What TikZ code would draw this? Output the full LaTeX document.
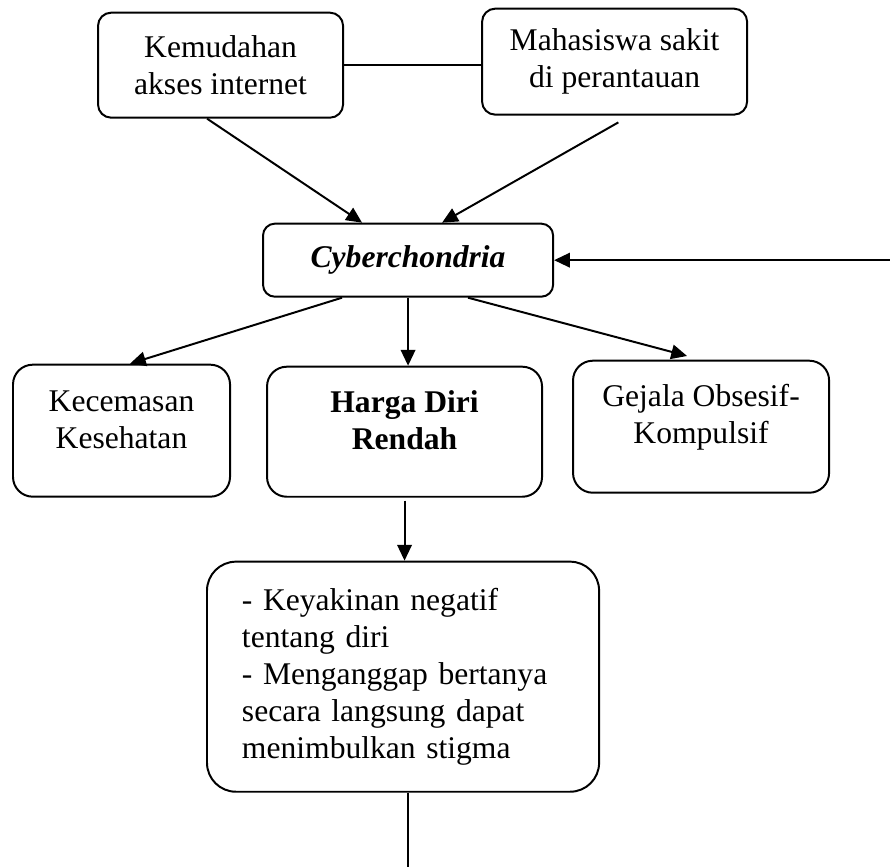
\documentclass[tikz,border=0pt]{standalone}
\usepackage{fontspec}
\setmainfont{Liberation Serif}
\usetikzlibrary{arrows.meta}

\begin{document}
\begin{tikzpicture}[line width=0.75pt,>={Triangle[length=6pt,width=5.5pt]},
kotak/.style={draw,rectangle,rounded corners=#1,inner sep=0pt,line width=0.75pt,font=\fontsize{12pt}{14pt}\selectfont,align=center},
kotak/.default=5pt,
teks/.style={inner sep=0pt,font=\fontsize{12pt}{14pt}\selectfont,align=center},
tebal/.style={teks,font=\fontsize{12pt}{14pt}\selectfont\bfseries}]

\useasboundingbox (0,0) rectangle (11.88,11.57);

\draw (2.944,10.700) node[kotak=5pt,minimum width=3.271cm,minimum height=1.402cm] (akses) {Kemudahan\\akses internet};
\draw (8.204,10.747) node[kotak=5pt,minimum width=3.538cm,minimum height=1.415cm] (rantau) {Mahasiswa sakit\\di perantauan};

\draw (5.447,8.097) node[kotak=4.5pt,minimum width=3.872cm,minimum height=0.975cm] (cyber) {\textbf{\textit{Cyberchondria}}};

\draw (1.622,5.821) node[kotak=7.5pt,minimum width=2.897cm,minimum height=1.762cm] (cemas) {};
\draw (5.400,5.807) node[kotak=7.5pt,minimum width=3.671cm,minimum height=1.736cm] (harga) {};
\draw (9.358,5.874) node[kotak=7.5pt,minimum width=3.418cm,minimum height=1.762cm] (obsesif) {};
\draw (cemas.center) ++(0,0.15) node[teks] (cemasteks) {Kecemasan\\Kesehatan};
\draw (harga.center) ++(0,0.15) node[tebal] (hargateks) {Harga Diri\\Rendah};
\draw (obsesif.center) ++(0,0.13) node[teks] (obsesifteks) {Gejala Obsesif-\\Kompulsif};

\draw (5.380,2.537) node[kotak=11pt,minimum height=3.071cm,text width=4.3cm,inner xsep=0.467cm,align=left] (yakin) {- Keyakinan negatif\\tentang diri\\- Menganggap bertanya\\secara langsung dapat\\menimbulkan stigma};

\draw (akses.east) -- (akses.east -| rantau.west);
\draw[->] ([xshift=-0.18cm]akses.south) -- ([xshift=-0.614cm]cyber.north);
\draw[->] ([xshift=0.05cm,yshift=-0.09cm]rantau.south) -- ([xshift=0.454cm]cyber.north);
\draw[<-] (cyber.east) -- ++(4.5,0);

\draw[->] ([xshift=-0.881cm]cyber.south) -- ([xshift=0.113cm]cemas.north);
\draw[->] (cyber.south) -- (cyber.south |- harga.north);
\draw[->] ([xshift=0.80cm]cyber.south) -- ([xshift=-0.187cm,yshift=0.05cm]obsesif.north);
\draw[->] ([yshift=-0.04cm]harga.south) -- (harga.south |- yakin.north);
\draw ([xshift=0.07cm]yakin.south) -- ++(0,-1.0);

\end{tikzpicture}
\end{document}
